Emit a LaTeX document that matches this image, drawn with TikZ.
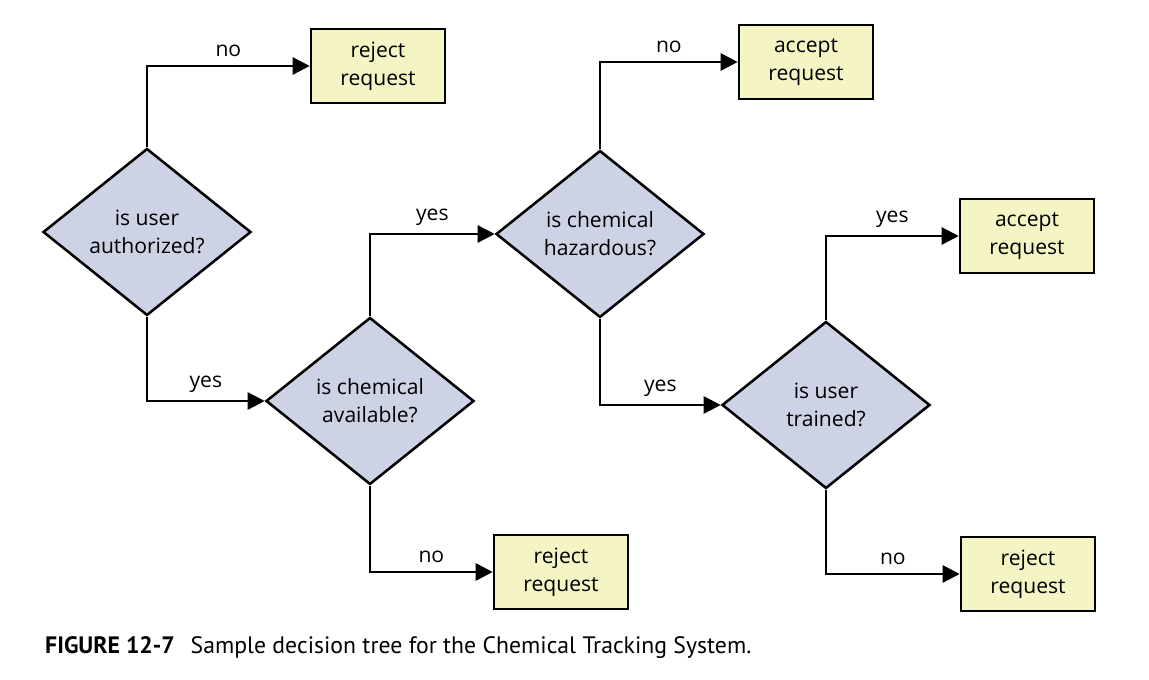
\documentclass[tikz,border=0pt]{standalone}
\usepackage{fontspec}
\setmainfont{Open Sans}
\newfontfamily\captionfont{PT Sans}
\usepackage{xcolor}
\usepackage{tikz}
\usetikzlibrary{arrows.meta,shapes.geometric}

\definecolor{decisionfill}{HTML}{CDD2E4}
\definecolor{outcomefill}{HTML}{F4F4C4}

\begin{document}
\begin{tikzpicture}[
  >={Triangle[length=0.34cm,width=0.34cm]},
  every node/.style={font=\fontsize{12}{16}\selectfont},
  decision/.style={
    diamond,
    draw=black,
    fill=decisionfill,
    line width=1.45pt,
    minimum width=4.16cm,
    minimum height=3.34cm,
    inner sep=0pt,
    align=center
  },
  outcome/.style={
    rectangle,
    draw=black,
    fill=outcomefill,
    line width=1.45pt,
    minimum width=2.68cm,
    minimum height=1.48cm,
    align=center
  },
  branch/.style={->,draw=black,line width=1.45pt},
  answer/.style={above=1pt,pos=0.75}
]

\useasboundingbox (0,0) rectangle (22.98,13.6);

% Questions.
\node[decision] (authorized) at (2.94,8.96) {is user\\authorized?};
\node[decision] (available) at (7.40,5.58) {is chemical\\available?};
\node[decision] (hazardous) at (12.00,8.92) {is chemical\\hazardous?};
\node[decision] (trained) at (16.52,5.50) {is user\\trained?};

% Outcomes.
\node[outcome] (rejectauth) at (7.56,12.28) {reject\\request};
\node[outcome] (rejectavail) at (11.22,2.16) {reject\\request};
\node[outcome] (acceptsafe) at (16.12,12.36) {accept\\request};
\node[outcome] (accepttrained) at (20.54,8.88) {accept\\request};
\node[outcome] (rejecttrained) at (20.56,2.12) {reject\\request};

% Branches.
\draw[branch] (authorized.north) |- node[answer] {no} (rejectauth.west);
\draw[branch] (authorized.south) |- node[answer] {yes} (available.west);
\draw[branch] (available.south) |- node[answer] {no} (rejectavail.west);
\draw[branch] (available.north) |- node[answer] {yes} (hazardous.west);
\draw[branch] (hazardous.north) |- node[answer] {no} (acceptsafe.west);
\draw[branch] (hazardous.south) |- node[answer] {yes} (trained.west);
\draw[branch] (trained.north) |- node[answer] {yes} (accepttrained.west);
\draw[branch] (trained.south) |- node[answer] {no} (rejecttrained.west);

\node[anchor=west,font=\captionfont\fontsize{13.5}{15}\selectfont] (caption) at (0.78,0.64)
  {\textbf{FIGURE 12-7}\hspace{0.4em} Sample decision tree for the Chemical Tracking System.};

\end{tikzpicture}
\end{document}
